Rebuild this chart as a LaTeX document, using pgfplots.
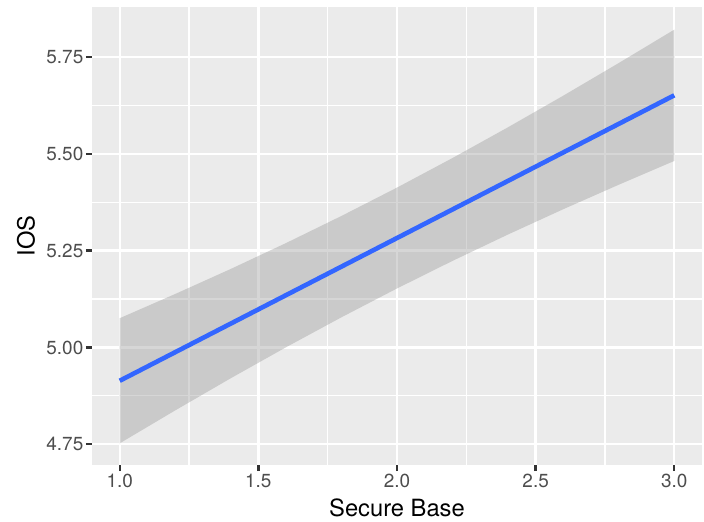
\documentclass[border=0pt]{standalone}
\usepackage{pgfplots}
\pgfplotsset{compat=1.18}
\usepgfplotslibrary{fillbetween}
\usetikzlibrary{calc}
\usepackage{fontspec}
\setmainfont{TeX Gyre Heros}
\definecolor{panelbg}{HTML}{EBEBEB}
\definecolor{ribbon}{HTML}{999999}
\definecolor{fitline}{HTML}{3366FF}
\definecolor{ticklab}{HTML}{4D4D4D}
\definecolor{tickcol}{HTML}{333333}
\begin{document}
\begin{tikzpicture}
\begin{axis}[
  scale only axis,
  width=610bp, height=458bp,
  xmin=0.9, xmax=3.1, ymin=4.6965, ymax=5.879,
  axis background/.style={fill=panelbg},
  axis line style={draw=none},
  xtick={1,1.5,2,2.5,3},
  ytick={4.75,5,5.25,5.5,5.75},
  minor xtick={1.25,1.75,2.25,2.75},
  minor ytick={4.875,5.125,5.375,5.625},
  grid=both,
  major grid style={white, line width=2.3bp},
  minor grid style={white, line width=1.15bp},
  tick align=outside, tick pos=left,
  major tick length=6bp, minor tick length=0bp,
  major tick style={tickcol, line width=2.3bp},
  xticklabel style={/pgf/number format/.cd, fixed, fixed zerofill, precision=1},
  yticklabel style={/pgf/number format/.cd, fixed, fixed zerofill, precision=2},
  /pgf/number format/assume math mode=true,
  tick label style={font=\fontsize{19}{22}\selectfont, color=ticklab, inner sep=2.5bp},
  every axis x label/.style={at={(axis description cs:0.5,0)}, yshift=-43bp, anchor=center},
  every axis y label/.style={at={(axis description cs:0,0.5)}, xshift=-66bp, rotate=90, anchor=center},
  label style={font=\fontsize{23.8}{26}\selectfont, color=black},
  xlabel={Secure Base},
  ylabel={IOS},
]
\addplot[name path=U, draw=none] coordinates {
(1.0,5.0755) (1.2,5.1380) (1.4,5.2025) (1.6,5.2696) (1.8,5.3396) (2.0,5.4127)
(2.2,5.4890) (2.4,5.5683) (2.6,5.6502) (2.8,5.7344) (3.0,5.8205)};
\addplot[name path=L, draw=none] coordinates {
(1.0,4.7525) (1.2,4.8374) (1.4,4.9203) (1.6,5.0006) (1.8,5.0780) (2.0,5.1523)
(2.2,5.2234) (2.4,5.2915) (2.6,5.3570) (2.8,5.4202) (3.0,5.4815)};
\addplot[fill=ribbon, fill opacity=0.4, draw=none] fill between[of=U and L];
\addplot[fitline, line width=4.6bp] coordinates {(1.0,4.914) (3.0,5.651)};
\end{axis}
\pgfresetboundingbox
\path[use as bounding box] ($(current axis.south west)+(-92bp,-57bp)$) rectangle +(704bp,522bp);
\end{tikzpicture}
\end{document}
